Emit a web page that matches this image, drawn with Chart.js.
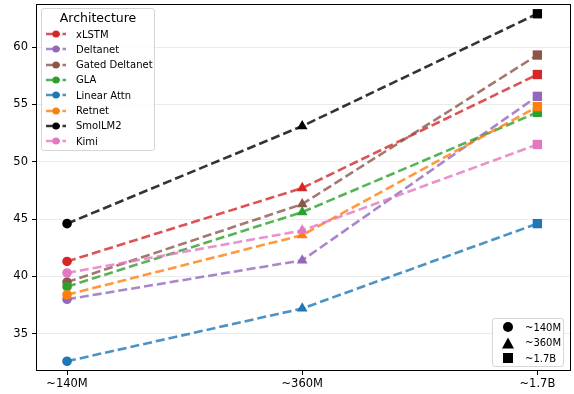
<!DOCTYPE html>
<html><head><meta charset="utf-8">
<script src="https://cdn.jsdelivr.net/npm/chart.js@4/dist/chart.umd.min.js"></script>
<style>
html,body{margin:0;padding:0;background:#fff;overflow:hidden}
#wrap{position:relative;width:574px;height:394px;}
canvas{display:block}
.leg{position:absolute;background:rgba(255,255,255,0.85);border:1px solid #d6d6d6;border-radius:3px;font-family:"DejaVu Sans",sans-serif;color:#000;box-sizing:border-box}
.row{position:absolute;left:0;height:14px;display:flex;align-items:center;font-size:10px;white-space:nowrap}
.row svg{margin-left:3px;margin-right:9px}
.title{position:absolute;left:0;right:0;top:1px;text-align:center;font-size:12.5px}
</style></head><body>
<div id="wrap"><canvas id="c" width="574" height="394"></canvas>
<div id="leg1" class="leg"></div><div id="leg2" class="leg"></div></div>
<script>
// ---- data ----
const categories = ["~140M", "~360M", "~1.7B"];
const seriesNames = ["xLSTM", "Deltanet", "Gated Deltanet", "GLA", "Linear Attn", "Retnet", "SmolLM2", "Kimi"];
const xlstm        = [41.3, 47.7, 57.6];
const deltanet     = [38.0, 41.4, 55.7];
const gatedDeltanet= [39.5, 46.3, 59.3];
const gla          = [39.1, 45.6, 54.3];
const linearAttn   = [32.6, 37.2, 44.6];
const retnet       = [38.4, 43.6, 54.8];
const smollm2      = [44.6, 53.1, 62.9];
const kimi         = [40.3, 44.0, 51.5];
const yTicks = [35, 40, 45, 50, 55, 60];
const seriesValues = [xlstm, deltanet, gatedDeltanet, gla, linearAttn, retnet, smollm2, kimi];
const seriesColors = ["214,39,40", "148,103,189", "140,86,75", "44,160,44", "31,119,180", "255,127,14", "0,0,0", "227,119,194"];
const markerStyles = ["circle", "triangle", "rect"];
const markerRadii = [4.8, 6.2, 6.6];

const datasets = seriesNames.map((name, i) => ({
  label: name,
  data: seriesValues[i].map((v, j) => ({x: j, y: v})),
  borderColor: `rgba(${seriesColors[i]},0.8)`,
  borderWidth: 2.6,
  borderDash: [9, 4],
  pointStyle: markerStyles,
  pointRadius: markerRadii,
  pointBackgroundColor: `rgb(${seriesColors[i]})`,
  pointBorderColor: `rgb(${seriesColors[i]})`,
  pointBorderWidth: 0,
  fill: false,
  tension: 0,
  order: seriesNames.length - i
}));

const framePlugin = {
  id: 'frame',
  afterDatasetsDraw(chart) {
    const a = chart.chartArea, ctx = chart.ctx;
    ctx.save();
    ctx.strokeStyle = '#000';
    ctx.lineWidth = 1;
    ctx.strokeRect(Math.round(a.left) + 0.5, Math.round(a.top) + 0.5, Math.round(a.right - a.left) - 1, Math.round(a.bottom - a.top) - 1);
    ctx.restore();
  }
};

const font = {family: "DejaVu Sans", size: 11.5};
new Chart(document.getElementById('c'), {
  type: 'line',
  data: {datasets},
  options: {
    responsive: false, animation: false, devicePixelRatio: 1,
    layout: {autoPadding: false, padding: {top: 4, right: 3, left: 0, bottom: 0}},
    plugins: {legend: {display: false}, tooltip: {enabled: false}},
    scales: {
      x: {
        type: 'linear', min: -0.132, max: 2.143,
        afterBuildTicks: s => { s.ticks = categories.map((c, i) => ({value: i})); },
        afterFit: s => { s.height = 23; s.paddingLeft = 0; s.paddingRight = 0; },
        ticks: {callback: v => categories[v], font, color: '#000', autoSkip: false, maxRotation: 0, padding: 2},
        grid: {drawOnChartArea: false, drawTicks: true, tickLength: 4, tickColor: '#000'},
        border: {display: false}
      },
      y: {
        min: 31.75, max: 63.75,
        afterBuildTicks: s => { s.ticks = yTicks.map(v => ({value: v})); },
        afterFit: s => { s.width = 36; s.paddingTop = 0; s.paddingBottom = 0; },
        ticks: {font, color: '#000', padding: 4},
        grid: {color: '#ebebeb', lineWidth: 1, drawTicks: true, tickLength: 4, tickColor: '#000'},
        border: {display: false}
      }
    }
  },
  plugins: [framePlugin]
});

// ---- legends ----
const leg1 = document.getElementById('leg1');
Object.assign(leg1.style, {left: '41px', top: '8px', width: '114px', height: '143px'});
leg1.innerHTML = '<div class="title">Architecture</div>' + seriesNames.map((n, i) =>
  `<div class="row" style="top:${18 + i * 15.3}px"><svg width="22" height="10"><line x1="1" y1="5" x2="21" y2="5" stroke="rgba(${seriesColors[i]},0.8)" stroke-width="2.6" stroke-dasharray="14 2.5 4 10"/><circle cx="11" cy="5" r="3.6" fill="rgb(${seriesColors[i]})"/></svg>${n}</div>`).join('');

const leg2 = document.getElementById('leg2');
Object.assign(leg2.style, {left: '492px', top: '318px', width: '72px', height: '49px'});
const shapes = [
  '<circle cx="7" cy="7" r="5" fill="#000"/>',
  '<polygon points="7,1.5 13,12.5 1,12.5" fill="#000"/>',
  '<rect x="2" y="2" width="10" height="10" fill="#000"/>'
];
leg2.innerHTML = categories.map((c, i) =>
  `<div class="row" style="top:${1 + i * 15.6}px"><svg width="14" height="14" style="margin-left:8px;margin-right:10px">${shapes[i]}</svg>${c}</div>`).join('');
</script>
</body></html>
